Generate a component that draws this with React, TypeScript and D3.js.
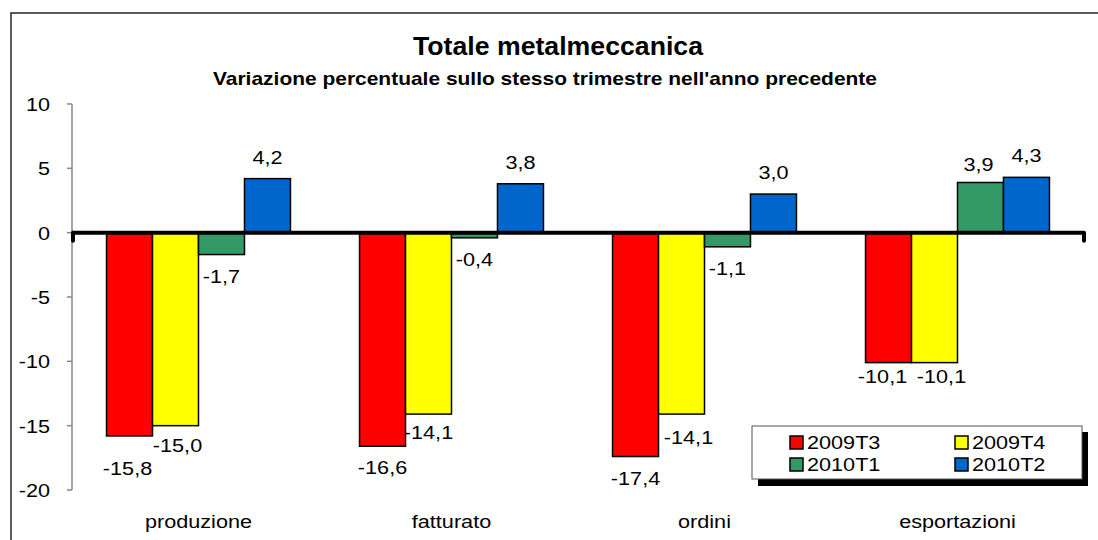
import React from "react";
import * as d3 from "d3";

const categories = ["produzione", "fatturato", "ordini", "esportazioni"];
const seriesNames = ["2009T3", "2009T4", "2010T1", "2010T2"];
const v2009T3 = [-15.8, -16.6, -17.4, -10.1];
const v2009T4 = [-15.0, -14.1, -14.1, -10.1];
const v2010T1 = [-1.7, -0.4, -1.1, 3.9];
const v2010T2 = [4.2, 3.8, 3.0, 4.3];
const yTicks = [10, 5, 0, -5, -10, -15, -20];

const seriesValues = [v2009T3, v2009T4, v2010T1, v2010T2];
const seriesColors = ["#FF0000", "#FFFF00", "#339966", "#0066CC"];
// manual label nudges [dx, dy] per series x category (as in the original layout)
const labelNudges = [
  [[-2, 11], [0, 0], [0, 0], [-6, -8]],
  [[2, -2], [0, -3], [7, 2], [7, -8]],
  [[0, 0], [0, 0], [0, 0], [-2, 4]],
  [[0, 0], [0, 0], [0, 0], [0, 0]],
];

const FONT = "'Liberation Sans', Arial, Helvetica, sans-serif";
const SX = 1.17;

function T({ x, y, anchor = "middle", size = 18.5, bold = false, children }: any) {
  return (
    <g transform={`translate(${x},${y}) scale(${SX},1)`}>
      <text x={0} y={0} textAnchor={anchor} fontFamily={FONT} fontSize={size} fontWeight={bold ? "bold" : "normal"} fill="#000">
        {children}
      </text>
    </g>
  );
}

const fmt = (v: number) => v.toFixed(1).replace(".", ",");

export default function App() {
  const W = 1098, H = 540;
  const plotL = 72, plotR = 1084;
  const y = d3.scaleLinear().domain([-20, 10]).range([490, 104]);
  const x0 = d3.scaleBand<string>().domain(categories).range([plotL, plotR]).paddingInner(0.273).paddingOuter(0.1365);
  const x1 = d3.scaleBand<string>().domain(seriesNames).range([0, x0.bandwidth()]).padding(0);
  const y0 = y(0);

  return (
    <svg width={W} height={H} style={{ position: "absolute", left: 0, top: 0, background: "#fff" }}>
      <rect x={0} y={0} width={W} height={H} fill="#fff" />
      <rect x={11} y={13} width={1100} height={560} fill="#fff" stroke="#333" strokeWidth={1.6} />

      <text x={413} y={55} textLength={290} lengthAdjust="spacingAndGlyphs" fontFamily={FONT} fontSize={25} fontWeight="bold">Totale metalmeccanica</text>
      <text x={213} y={85} textLength={664} lengthAdjust="spacingAndGlyphs" fontFamily={FONT} fontSize={19} fontWeight="bold">Variazione percentuale sullo stesso trimestre nell'anno precedente</text>

      {/* y axis */}
      <line x1={plotL} x2={plotL} y1={y(10)} y2={y(-20)} stroke="#888" strokeWidth={1.5} />
      {yTicks.map((t) => (
        <g key={t}>
          <line x1={plotL - 5} x2={plotL} y1={y(t)} y2={y(t)} stroke="#888" strokeWidth={1.5} />
          <T x={50} y={y(t) + 7} anchor="end">{String(t)}</T>
        </g>
      ))}

      {/* bars */}
      {seriesNames.map((s, si) =>
        categories.map((c, ci) => {
          const v = seriesValues[si][ci];
          const bx = (x0(c) as number) + (x1(s) as number);
          const top = Math.min(y(v), y0);
          const h = Math.abs(y(v) - y0);
          return (
            <rect key={s + c} x={bx} y={top} width={x1.bandwidth()} height={h} fill={seriesColors[si]} stroke="#000" strokeWidth={1.5} />
          );
        })
      )}

      {/* zero line */}
      <line x1={plotL} x2={plotR} y1={y0} y2={y0} stroke="#000" strokeWidth={4} />
      <line x1={plotL + 1} x2={plotL + 1} y1={y0} y2={y0 + 8} stroke="#000" strokeWidth={4} strokeLinecap="round" />
      <line x1={plotR} x2={plotR} y1={y0} y2={y0 + 8} stroke="#000" strokeWidth={4} strokeLinecap="round" />

      {/* labels */}
      {seriesNames.map((s, si) =>
        categories.map((c, ci) => {
          const v = seriesValues[si][ci];
          const cx = (x0(c) as number) + (x1(s) as number) + x1.bandwidth() / 2;
          const [dx, dy] = labelNudges[si][ci];
          const by = v >= 0 ? y(v) - 15 : y(v) + 28;
          return <T key={"l" + s + c} x={cx + dx} y={by + dy}>{fmt(v)}</T>;
        })
      )}

      {/* category labels */}
      {categories.map((c) => (
        <T key={c} x={(x0(c) as number) + x0.bandwidth() / 2} y={528}>{c}</T>
      ))}

      {/* legend */}
      <rect x={758} y={432} width={330} height={54} fill="#000" />
      <rect x={752} y={426} width={330} height={53} fill="#fff" stroke="#555" strokeWidth={1} />
      {seriesNames.map((s, i) => {
        const col = i % 2, row = Math.floor(i / 2);
        const sx = 790 + col * 165;
        const sy = 436 + row * 22;
        return (
          <g key={"lg" + s}>
            <rect x={sx} y={sy} width={13} height={13} fill={seriesColors[i]} stroke="#000" strokeWidth={1.5} />
            <T x={sx + 17} y={sy + 13} anchor="start">{s}</T>
          </g>
        );
      })}
    </svg>
  );
}
